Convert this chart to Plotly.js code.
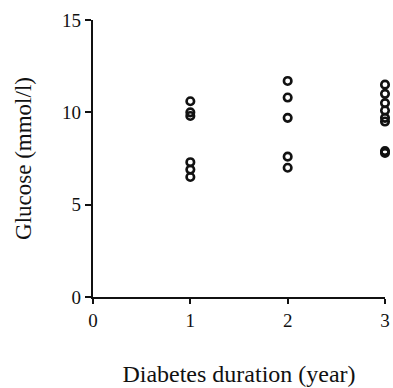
<!DOCTYPE html>
<html>
<head>
<meta charset="utf-8">
<script src="https://cdn.plot.ly/plotly-3.0.1.min.js"></script>
<style>html,body{margin:0;padding:0;background:#fff;}#chart{width:393px;height:388px;}</style>
</head>
<body>
<div id="chart"></div>
<script>
// Diabetes duration (year) for each group
const durationYear1 = [1, 1, 1, 1, 1, 1];
const glucoseYear1 = [10.6, 10.0, 9.8, 7.3, 6.9, 6.5];
const durationYear2 = [2, 2, 2, 2, 2];
const glucoseYear2 = [11.7, 10.8, 9.7, 7.6, 7.0];
const durationYear3 = [3, 3, 3, 3, 3, 3, 3, 3];
const glucoseYear3 = [11.5, 11.0, 10.5, 10.1, 9.7, 9.5, 7.9, 7.8];
const xTicks = [0, 1, 2, 3];
const yTicks = [0, 5, 10, 15];

const x = [].concat(durationYear1, durationYear2, durationYear3);
const y = [].concat(glucoseYear1, glucoseYear2, glucoseYear3);

const trace = {
  x: x, y: y, type: 'scatter', mode: 'markers', cliponaxis: false,
  marker: {symbol: 'circle-open', size: 7.5, color: '#111', line: {width: 2.6, color: '#111'}},
  hoverinfo: 'none'
};
const font = {family: '"Liberation Serif", "Times New Roman", serif', color: '#111'};
const layout = {
  width: 393, height: 388,
  margin: {l: 93, r: 8, t: 20, b: 91},
  paper_bgcolor: '#fff', plot_bgcolor: '#fff',
  showlegend: false,
  font: font,
  xaxis: {
    range: [0, 3], tickvals: xTicks, ticktext: xTicks.map(String),
    showgrid: false, zeroline: false, showline: true, linecolor: '#111', linewidth: 2.2,
    ticks: 'outside', ticklen: 5, tickwidth: 2, tickcolor: '#111',
    tickfont: Object.assign({size: 19}, font),
    title: {text: 'Diabetes duration (year)', font: Object.assign({size: 24}, font)}
  },
  yaxis: {
    range: [0, 15], tickvals: yTicks, ticktext: yTicks.map(String),
    showgrid: false, zeroline: false, showline: true, linecolor: '#111', linewidth: 2.2,
    ticks: 'outside', ticklen: 6, tickwidth: 2, tickcolor: '#111',
    tickfont: Object.assign({size: 19}, font),
    title: {text: 'Glucose (mmol/l)', font: Object.assign({size: 23}, font), standoff: 24}
  }
};
Plotly.newPlot('chart', [trace], layout, {displayModeBar: false, staticPlot: true}).then(function (gd) {
  // nudge the x-axis title down slightly to sit where the reference places it
  const t = gd.querySelector('.g-xtitle text');
  if (t) t.setAttribute('transform', 'translate(0,2)');
});
</script>
</body>
</html>
